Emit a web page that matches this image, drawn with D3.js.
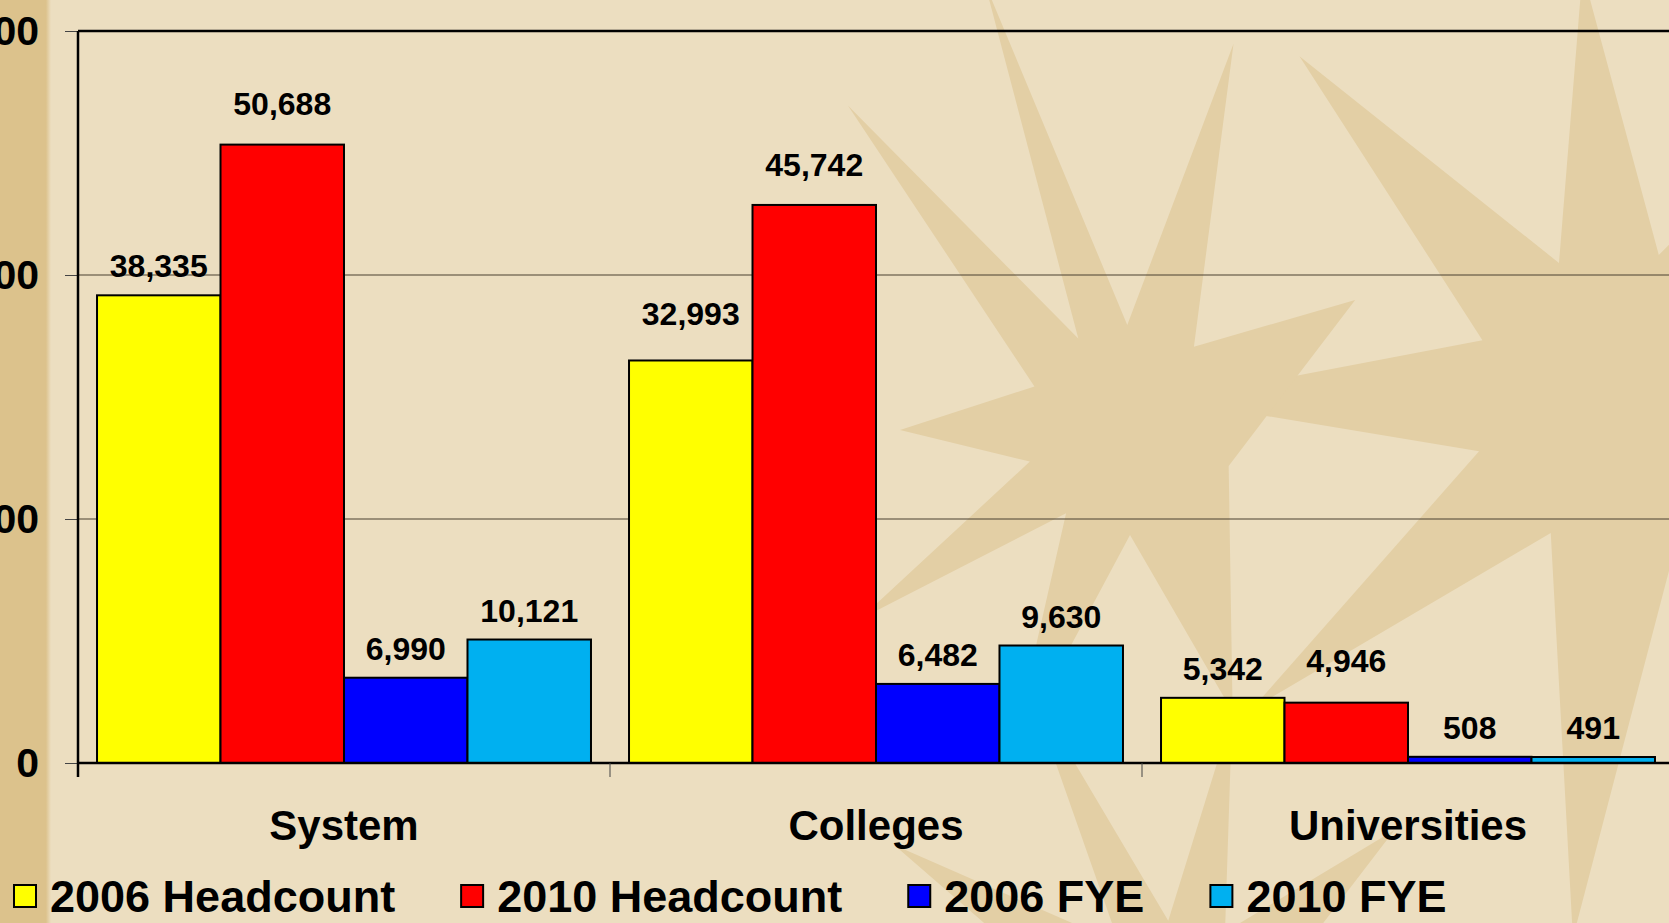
<!DOCTYPE html>
<html>
<head>
<meta charset="utf-8">
<script src="https://cdn.jsdelivr.net/npm/d3@7"></script>
<style>
  body { margin: 0; background: #ecdec0; overflow: hidden; }
  svg { display: block; }
  text { font-family: "Liberation Sans", Arial, sans-serif; font-weight: bold; fill: #000; }
</style>
</head>
<body>
<svg id="chart" width="1669" height="923"></svg>
<script>
// data
const categories = ["System", "Colleges", "Universities"];
const seriesNames = ["2006 Headcount", "2010 Headcount", "2006 FYE", "2010 FYE"];
const seriesColors = ["#ffff00", "#ff0000", "#0000ff", "#00b0f0"];
const headcount2006 = [38335, 32993, 5342];
const headcount2010 = [50688, 45742, 4946];
const fye2006 = [6990, 6482, 508];
const fye2010 = [10121, 9630, 491];
const yTicks = [0, 20000, 40000, 60000];

// a few labels sit higher above their bar on the slide (extra lift, px)
const labelLift = [[0, 12, 0, 0], [17, 11, 0, 0], [0, 13, 0, 0]];

const seriesValues = [headcount2006, headcount2010, fye2006, fye2010];

const svg = d3.select("#chart");
const W = 1669, H = 923;
const plot = {left: 78, right: 1674, top: 31, bottom: 763};

// background
svg.append("rect").attr("width", W).attr("height", H).attr("fill", "#ecdec0");

// faint sunburst decoration behind the chart
function starPath(cx, cy, inner, rays) {
  const pts = [];
  const sorted = rays.slice().sort((a, b) => a[0] - b[0]);
  sorted.forEach((r, i) => {
    const a = r[0] * Math.PI / 180;
    const next = sorted[(i + 1) % sorted.length][0];
    let mid = (r[0] + (next > r[0] ? next : next + 360)) / 2 * Math.PI / 180;
    pts.push([cx + Math.cos(a) * r[1], cy + Math.sin(a) * r[1]]);
    pts.push([cx + Math.cos(mid) * inner, cy + Math.sin(mid) * inner]);
  });
  return "M" + pts.map(p => p.join(",")).join("L") + "Z";
}
const stars = [
  {cx: 1620, cy: 400, inner: 150, rays: [[-180, 450], [-133, 470], [-95, 430], [-55, 450], [-10, 300], [40, 400], [95, 540], [140, 480]]},
  {cx: 1130, cy: 430, inner: 105, rays: [[-131, 430], [-108, 470], [-75, 400], [-30, 260], [180, 230], [145, 330], [110, 350], [70, 300]]},
  {cx: 1180, cy: 1010, inner: 90, rays: [[-150, 330], [-115, 360], [-80, 300], [-40, 280]]}
];
const bg = svg.append("g").attr("class", "sunburst");
stars.forEach(s => {
  bg.append("path").attr("d", starPath(s.cx, s.cy, s.inner, s.rays)).attr("fill", "#e3cfa5");
});

// tan strip on the left edge
const grad = svg.append("defs").append("linearGradient").attr("id", "strip");
grad.append("stop").attr("offset", "0.9").attr("stop-color", "#dcc28c");
grad.append("stop").attr("offset", "1").attr("stop-color", "#ecdec0");
svg.append("rect").attr("x", 0).attr("y", 0).attr("width", 51).attr("height", H).attr("fill", "url(#strip)");

// scales
const x0 = d3.scaleBand().domain(categories).range([plot.left, plot.right]).padding(0);
const x1 = d3.scaleBand().domain(seriesNames).range([0, x0.bandwidth()]).paddingInner(0).paddingOuter(0.154);
const y = d3.scaleLinear().domain([0, 60000]).range([plot.bottom, plot.top]);

// gridlines
svg.append("g").selectAll("line")
  .data(yTicks.filter(t => t > 0 && t < 60000))
  .join("line")
  .attr("x1", plot.left).attr("x2", W)
  .attr("y1", d => y(d)).attr("y2", d => y(d))
  .attr("stroke", "#4a4030").attr("stroke-width", 1);

// plot border top
svg.append("line").attr("x1", plot.left).attr("x2", W)
  .attr("y1", y(60000)).attr("y2", y(60000))
  .attr("stroke", "#000").attr("stroke-width", 2.5);

// y axis
const yAxis = svg.append("g").attr("transform", `translate(${plot.left},0)`)
  .call(d3.axisLeft(y).tickValues(yTicks).tickFormat(d3.format(",")).tickSize(13).tickPadding(26));
yAxis.select(".domain").remove();
yAxis.selectAll(".tick line").attr("stroke", "#444").attr("stroke-width", 1);
yAxis.selectAll(".tick text").attr("font-size", 41).attr("font-family", null).attr("fill", "#000");

// bars
const groups = svg.append("g").selectAll("g")
  .data(categories)
  .join("g")
  .attr("transform", d => `translate(${x0(d)},0)`);

groups.selectAll("rect")
  .data((c, ci) => seriesNames.map((s, si) => ({series: s, color: seriesColors[si], value: seriesValues[si][ci]})))
  .join("rect")
  .attr("x", d => x1(d.series))
  .attr("y", d => y(d.value))
  .attr("width", x1.bandwidth())
  .attr("height", d => y(0) - y(d.value))
  .attr("fill", d => d.color)
  .attr("stroke", "#000")
  .attr("stroke-width", 2);

groups.selectAll("text")
  .data((c, ci) => seriesNames.map((s, si) => ({series: s, value: seriesValues[si][ci], lift: labelLift[ci][si]})))
  .join("text")
  .attr("x", d => x1(d.series) + x1.bandwidth() / 2)
  .attr("y", d => y(d.value) - 18 - d.lift)
  .attr("text-anchor", "middle")
  .attr("font-size", 32)
  .text(d => d3.format(",")(d.value));

// x axis
const xAxis = svg.append("g").attr("transform", `translate(0,${plot.bottom})`)
  .call(d3.axisBottom(x0).tickSize(0).tickPadding(0).tickFormat(""));
xAxis.select(".domain").remove();
svg.append("line").attr("x1", plot.left).attr("x2", W)
  .attr("y1", y(0)).attr("y2", y(0)).attr("stroke", "#000").attr("stroke-width", 2.5);

// category separators below the axis
const seps = categories.map(c => x0(c));
svg.append("g").selectAll("line").data(seps).join("line")
  .attr("x1", d => d).attr("x2", d => d)
  .attr("y1", plot.bottom).attr("y2", plot.bottom + 14)
  .attr("stroke", "#444").attr("stroke-width", 1);

// left axis line
svg.append("line").attr("x1", plot.left).attr("x2", plot.left)
  .attr("y1", plot.top).attr("y2", plot.bottom + 14)
  .attr("stroke", "#000").attr("stroke-width", 2.5);

svg.append("g").selectAll("text").data(categories).join("text")
  .attr("x", d => x0(d) + x0.bandwidth() / 2)
  .attr("y", 840)
  .attr("text-anchor", "middle")
  .attr("font-size", 42)
  .text(d => d);

// legend
const legend = svg.append("g");
let lx = 14;
seriesNames.forEach((s, i) => {
  legend.append("rect").attr("x", lx).attr("y", 885).attr("width", 22).attr("height", 22)
    .attr("fill", seriesColors[i]).attr("stroke", "#000").attr("stroke-width", 2);
  const t = legend.append("text").attr("x", lx + 36).attr("y", 912)
    .attr("font-size", 45).text(s);
  lx += 36 + t.node().getComputedTextLength() + 66;
});
</script>
</body>
</html>
